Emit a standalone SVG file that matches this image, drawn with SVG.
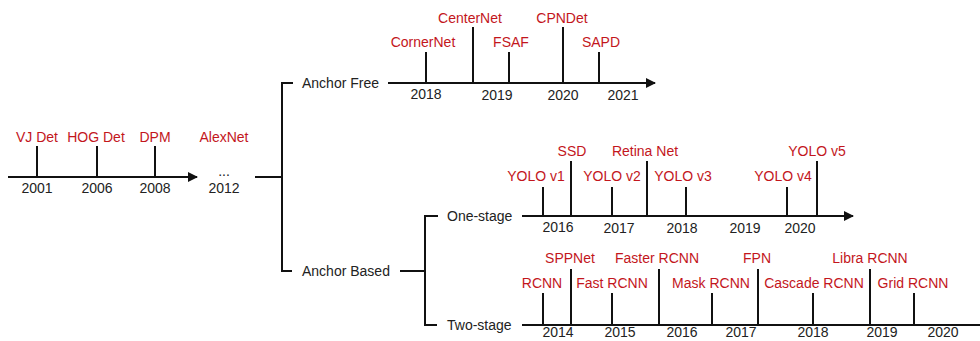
<svg xmlns="http://www.w3.org/2000/svg" width="980" height="341" viewBox="0 0 980 341">
  <style>
    .ln { stroke: #111; stroke-width: 2; fill: none; }
    .tick { stroke: #111; stroke-width: 2; }
    .lbl { font-family: "Liberation Sans", Arial, sans-serif; font-size: 14px; fill: #c3161c; text-anchor: middle; }
    .yr { font-family: "Liberation Sans", Arial, sans-serif; font-size: 14px; fill: #222; text-anchor: middle; }
    .br { font-family: "Liberation Sans", Arial, sans-serif; font-size: 14px; fill: #222; }
  </style>
  <defs>
    <marker id="arrow" viewBox="0 0 10 10" refX="9" refY="5" markerWidth="5" markerHeight="5" orient="auto" markerUnits="strokeWidth">
      <path d="M0,0 L10,5 L0,10 z" fill="#111"/>
    </marker>
  </defs>
  <rect width="980" height="341" fill="#fff"/>

  <!-- connectors: timelines and brackets -->
  <g id="connectors">
    <line class="ln" x1="8" y1="177" x2="197" y2="177" marker-end="url(#arrow)"/>
    <line class="ln" x1="255" y1="177" x2="282" y2="177"/>
    <polyline class="ln" points="293,83 282,83 282,271 292,271"/>
    <line class="ln" x1="388" y1="83" x2="655" y2="83" marker-end="url(#arrow)"/>
    <line class="ln" x1="400" y1="271" x2="425" y2="271"/>
    <polyline class="ln" points="438,216 425,216 425,325 437,325"/>
    <line class="ln" x1="522" y1="216" x2="853" y2="216" marker-end="url(#arrow)"/>
    <line class="ln" x1="522" y1="325" x2="980" y2="325"/>
  </g>

  <!-- early detectors -->
  <g id="early">
    <line class="tick" x1="37" y1="146" x2="37" y2="177"/>
    <line class="tick" x1="97" y1="146" x2="97" y2="177"/>
    <line class="tick" x1="155" y1="146" x2="155" y2="177"/>
    <text class="lbl" x="37" y="142">VJ Det</text>
    <text class="lbl" x="96" y="142">HOG Det</text>
    <text class="lbl" x="155" y="142">DPM</text>
    <text class="lbl" x="224" y="142">AlexNet</text>
    <text class="yr" x="37" y="193">2001</text>
    <text class="yr" x="97" y="193">2006</text>
    <text class="yr" x="155" y="193">2008</text>
    <text class="yr" x="224" y="176">...</text>
    <text class="yr" x="224" y="193">2012</text>
  </g>

  <!-- anchor free branch -->
  <g id="anchor-free">
    <text class="br" x="302" y="88">Anchor Free</text>
    <line class="tick" x1="426" y1="52" x2="426" y2="83"/>
    <line class="tick" x1="473" y1="27" x2="473" y2="83"/>
    <line class="tick" x1="509" y1="52" x2="509" y2="83"/>
    <line class="tick" x1="563" y1="27" x2="563" y2="83"/>
    <line class="tick" x1="599" y1="52" x2="599" y2="83"/>
    <text class="lbl" x="423" y="47">CornerNet</text>
    <text class="lbl" x="470" y="23">CenterNet</text>
    <text class="lbl" x="511" y="47">FSAF</text>
    <text class="lbl" x="562" y="23">CPNDet</text>
    <text class="lbl" x="601" y="47">SAPD</text>
    <text class="yr" x="426" y="99">2018</text>
    <text class="yr" x="497" y="100">2019</text>
    <text class="yr" x="563" y="100">2020</text>
    <text class="yr" x="623" y="100">2021</text>
  </g>

  <!-- anchor based branch -->
  <g id="anchor-based">
    <text class="br" x="302" y="276">Anchor Based</text>
  </g>

  <!-- one-stage detectors -->
  <g id="one-stage">
    <text class="br" x="447" y="221">One-stage</text>
    <line class="tick" x1="543" y1="187" x2="543" y2="216"/>
    <line class="tick" x1="571" y1="161" x2="571" y2="216"/>
    <line class="tick" x1="612" y1="187" x2="612" y2="216"/>
    <line class="tick" x1="647" y1="161" x2="647" y2="216"/>
    <line class="tick" x1="686" y1="187" x2="686" y2="216"/>
    <line class="tick" x1="787" y1="187" x2="787" y2="216"/>
    <line class="tick" x1="817" y1="161" x2="817" y2="216"/>
    <text class="lbl" x="536" y="181">YOLO v1</text>
    <text class="lbl" x="572" y="156">SSD</text>
    <text class="lbl" x="612" y="181">YOLO v2</text>
    <text class="lbl" x="645" y="156">Retina Net</text>
    <text class="lbl" x="683" y="181">YOLO v3</text>
    <text class="lbl" x="783" y="181">YOLO v4</text>
    <text class="lbl" x="817" y="156">YOLO v5</text>
    <text class="yr" x="558" y="232">2016</text>
    <text class="yr" x="619" y="233">2017</text>
    <text class="yr" x="682" y="233">2018</text>
    <text class="yr" x="745" y="233">2019</text>
    <text class="yr" x="800" y="233">2020</text>
  </g>

  <!-- two-stage detectors -->
  <g id="two-stage">
    <text class="br" x="447" y="330">Two-stage</text>
    <line class="tick" x1="543" y1="293" x2="543" y2="325"/>
    <line class="tick" x1="571" y1="269" x2="571" y2="325"/>
    <line class="tick" x1="612" y1="293" x2="612" y2="325"/>
    <line class="tick" x1="659" y1="269" x2="659" y2="325"/>
    <line class="tick" x1="712" y1="293" x2="712" y2="325"/>
    <line class="tick" x1="758" y1="269" x2="758" y2="325"/>
    <line class="tick" x1="813" y1="293" x2="813" y2="325"/>
    <line class="tick" x1="870" y1="269" x2="870" y2="325"/>
    <line class="tick" x1="914" y1="293" x2="914" y2="325"/>
    <text class="lbl" x="542" y="288">RCNN</text>
    <text class="lbl" x="570" y="263">SPPNet</text>
    <text class="lbl" x="612" y="288">Fast RCNN</text>
    <text class="lbl" x="657" y="263">Faster RCNN</text>
    <text class="lbl" x="711" y="288">Mask RCNN</text>
    <text class="lbl" x="757" y="263">FPN</text>
    <text class="lbl" x="814" y="288">Cascade RCNN</text>
    <text class="lbl" x="870" y="263">Libra RCNN</text>
    <text class="lbl" x="913" y="288">Grid RCNN</text>
    <text class="yr" x="558" y="337">2014</text>
    <text class="yr" x="620" y="337">2015</text>
    <text class="yr" x="682" y="337">2016</text>
    <text class="yr" x="741" y="337">2017</text>
    <text class="yr" x="813" y="337">2018</text>
    <text class="yr" x="882" y="337">2019</text>
    <text class="yr" x="943" y="337">2020</text>
  </g>
</svg>
